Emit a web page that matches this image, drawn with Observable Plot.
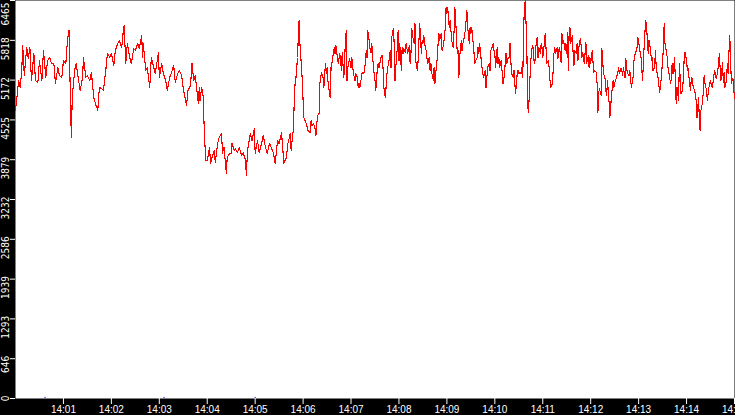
<!DOCTYPE html>
<html><head><meta charset="utf-8">
<script src="https://cdn.jsdelivr.net/npm/d3@7"></script>
<script src="https://cdn.jsdelivr.net/npm/@observablehq/plot@0.6"></script>
<style>html,body{margin:0;padding:0;background:#000;overflow:hidden}</style>
</head><body><div id="chart"></div>
<script>
// seconds after 14:00:00 and values
const secs1 = [0,4,6,8,9,11,14,16,18,20,23,25,28,30,33,35,38,40,43,45,48,50,53,55,58,60,63,65,67,69,70,71,74,76,79,81,84,85,88,90,93,95,98,100,103,105,108,110,113,115,118,120,123,125,128,130,133,135,136,138,140,143,145,148,150,153,155,158,159,160,163,165,168,170,173,175,178,179,180,183,185,188,190,193,195,198,200,203,205,208,210,213,214,216,219,221,223,225];
const values1 = [4678,5166,5052,5377,5734,5247,5702,5523,5702,5166,5604,5166,5133,5490,5166,5653,5214,5490,5539,5442,5442,5117,5377,5247,5214,5490,5442,5815,5978,4678,4240,4889,5328,5442,5166,5003,5214,5539,5214,5247,5166,5295,4889,4792,4678,5052,5036,5003,5328,5604,5539,5604,5409,5653,5767,5815,5702,5978,6059,5442,5767,5539,5442,5685,5653,5767,5685,5896,5539,5767,5328,5377,5052,5539,5377,5279,5539,5620,5214,5442,5279,5166,5003,5214,5279,5409,5133,5279,5328,5247,5036,4841,4759,5003,5084,5442,5166,5247];
const secs2 = [228,229,230,231,233,234,235,236,238,240,243,244,246,249,250,253,255,258,259,261,264,265,268,270,271,274,275,278,280,283,285,288,289,290,291,294,296,299,300,303,305,308,310,313,315,318,320,323,325,328,330,333,335,336,339,341,344,345,348,349,350,351,353,354,355,356,358,359,360,361,364,366,369,370,371,373,375,376,378,380,381,383,385,386,388,389,390,391,393,394,395,396,399,400,401,403,404,406,408,409,411,413,414,415,416,418,420,421,423,425,426,428,429,430,431,434,436,438,439,440,441,443,444,445,446,448,449,450];
const values2 = [4889,4792,5052,4841,5052,5003,4889,4467,3866,3866,4077,3818,3915,4029,3834,4142,4240,4305,3980,4077,3655,3915,3980,3980,4142,4029,4061,3996,4077,3947,3996,3866,3622,3915,4077,4305,4191,4386,3980,4191,3996,4142,4272,4077,3980,4142,4077,3980,3818,4191,4142,4321,3980,3818,3915,4142,4305,4029,4402,4889,5117,5198,5539,5864,6140,5767,5377,5166,4841,4564,4467,4353,4321,4516,4434,4467,4386,4272,4597,4629,5117,5295,5214,5052,5442,5279,5377,5166,4954,4889,5377,5442,5702,5604,5734,5539,5442,5604,5328,5620,5214,5815,5978,5166,5377,5523,5377,5539,5279,5166,5279,5214,5052,5117,5052,5295,5279,5458,5653,5539,5978,5783,5653,5620,5767,5377,5279,5166];
const secs3 = [451,453,454,455,458,459,460,461,463,464,465,466,468,469,470,471,473,474,475,476,478,479,480,481,483,484,485,486,488,489,490,491,493,494,495,496,498,499,500,501,503,504,505,506,508,509,510,511,513,514,515,516,518,519,520,521,523,524,525,526,528,529,530,531,533,534,535,536,538,539,540,541,543,544,545,546,548,549,550,551,553,554,555,556,558,559,560,561,563,564,565,566,568,569,570,571,573,574,575,576,578,579,580,581,583,584,585,586,588,589,590,591,593,594,595,596,598,599,600,601,603,604,605,606,608,609,610,611,613,614,615,616,618,619,620,621,623,624,625,626,628,629,630,631,633,634,635,636,637,638,640,641,642,643,644,645,647,648,649,650,652,653,654,655,657,658,659,660,662,663,664,665,667,668,669,670,672,673,674];
const values3 = [5003,5377,5442,5377,5572,5572,5377,5052,4889,5084,5279,5377,5523,5653,5377,5864,6010,5767,5166,5377,5702,5978,5490,5767,5328,5702,5604,5685,5620,5767,5685,5604,5734,5442,5604,6010,5815,5767,6091,5490,5328,5490,5815,6091,5604,5815,5767,5896,5702,5653,5539,5442,5539,5328,5442,5295,5166,5377,5117,5279,5539,5767,5929,5815,5929,5653,5702,5767,6027,6351,6254,6351,6027,6140,5978,5815,5702,5978,6351,6140,5604,5653,5214,5539,5815,5653,5767,5815,5978,6140,6303,6027,5767,6027,5929,6027,5767,5604,5442,5490,5539,5702,5604,5767,5490,5377,5279,5214,5328,5052,5214,5377,5442,5328,5653,5685,5767,5653,5604,5377,5702,5442,5539,5377,5490,5328,5117,5133,5442,5604,5442,5523,5539,5767,5490,5279,5214,5328,5117,4954,5279,5328,5279,5295,5279,5377,5214,5978,6351,6465,5767,4792,4646,4889,5214,5490,5734,5702,5490,5442,5815,5864,5539,5702,5604,5767,5702,5539,5767,5929,5702,5442,5490,5377,5166,5052,5117,5328,5604];
const secs4 = [675,676,678,679,680,681,683,684,685,686,688,689,690,691,692,693,694,695,697,698,699,700,702,703,704,705,707,708,709,710,712,713,714,715,717,718,719,720,722,723,724,725,727,728,729,730,731,733,734,735,736,738,739,740,741,743,744,745,746,748,749,750,751,753,754,755,756,758,759,760,761,763,764,765,766,768,769,770,771,773,774,775,776,778,779,780,781,783,784,785,786,788,789,790,791,792,793,795,796,797,798,800,801,802,803,805,806,807,808,810,811,812,813,815,816,817,818,820,821,822,823,825,826,827,828,830,831,832,833,835,836,837,838,840,841,842,843,845,846,847,848,850,851,852,853,855,856,857,858,860,861,862,863,865,866,867,868,870,871,872,873,875,876,877,878,880,881,882,883,885,886,887,888,890,891,892,893,894,895,896,898,899,900];
const values4 = [5702,5604,5702,5523,5653,5702,5458,5929,5767,5815,5653,5767,5604,5945,5328,5929,6027,5767,5896,5604,5409,5653,5604,5767,5490,5685,5848,5734,5539,5620,5442,5620,5783,5442,5572,5377,5539,5442,5653,5442,5295,5328,5295,5117,4646,4971,5035,4922,5685,5490,5279,5198,5003,4922,5166,4808,4564,4727,4922,5166,5052,5117,5166,5247,5295,5377,5279,5360,5328,5247,5377,5214,5523,5377,5279,5247,5328,5166,5052,5214,5458,5572,5604,5702,5864,5783,5702,5539,5328,5166,5490,5978,6140,6027,5815,5604,5815,5653,5490,5539,5328,5377,5653,5377,5295,5166,4971,5035,5166,5490,5702,6091,5767,5604,5523,5328,5279,5117,5214,5442,5279,5539,5133,4792,5052,4841,5442,5198,4954,5003,5214,5523,5620,5490,5328,5360,5214,5003,5214,5198,5084,5003,4954,4841,4564,4889,4516,4353,4678,4808,5003,5247,5117,5003,4841,4954,5052,5166,5084,5052,5117,5328,5279,5198,5247,5409,5604,5377,5166,5458,5133,5295,5052,5166,5442,5279,5604,5896,5604,5117,5198,5035,4873];

const yTicks = [0,646,1293,1939,2586,3232,3879,4525,5172,5818,6465];
const xTickLabels = ["14:01","14:02","14:03","14:04","14:05","14:06","14:07","14:08","14:09","14:10","14:11","14:12","14:13","14:14","14:15"];
const markerSecs = [37,186,300];

const base = Date.UTC(2000,0,1,14,0,0);
const toDate = s => new Date(base + s*1000);
const allSecs = [...secs1,...secs2,...secs3,...secs4];
const allValues = [...values1,...values2,...values3,...values4];
const data = allSecs.map((s,i)=>({time:toDate(s), value:allValues[i]}));
const xTickDates = xTickLabels.map(l => {const [h,m]=l.split(":").map(Number); return new Date(Date.UTC(2000,0,1,h,m,0));});

const chart = Plot.plot({
  width:735, height:415,
  marginLeft:15, marginRight:1, marginTop:0, marginBottom:17,
  style:{background:"#000", fontFamily:"'Liberation Sans', Arial, sans-serif", overflow:"hidden"},
  x:{type:"utc", domain:[toDate(0), toDate(900)]},
  y:{domain:[0,6465]},
  marks:[
    Plot.frame({fill:"white", stroke:"none"}),
    Plot.ruleX(markerSecs.map(toDate), {y1:0, y2:18, stroke:"#0000ff", strokeWidth:1}),
    Plot.line(data, {x:"time", y:"value", stroke:"#ff0000", strokeWidth:1.1, shapeRendering:"crispEdges"}),
    Plot.axisX({ticks:xTickDates, tickFormat:d3.utcFormat("%H:%M"), tickSize:6, tickPadding:1, color:"white", fontSize:10, label:null}),
    Plot.axisY({ticks:yTicks, tickSize:5, tickFormat:()=>"", color:"white", label:null}),
    Plot.text(yTicks.slice(0,-1), {y:d=>d, text:d=>String(d), frameAnchor:"left", dx:-9.5, dy:-3, rotate:-90, textAnchor:"end", fill:"white", fontSize:10, fontFamily:"'Liberation Sans Narrow', 'DejaVu Sans Condensed', sans-serif"}),
    Plot.text(yTicks.slice(-1), {y:d=>d, text:d=>String(d), frameAnchor:"left", dx:-9.5, dy:2, rotate:-90, textAnchor:"end", fill:"white", fontSize:10, fontFamily:"'Liberation Sans Narrow', 'DejaVu Sans Condensed', sans-serif"})
  ]
});
document.getElementById("chart").appendChild(chart);
</script>
</body></html>
